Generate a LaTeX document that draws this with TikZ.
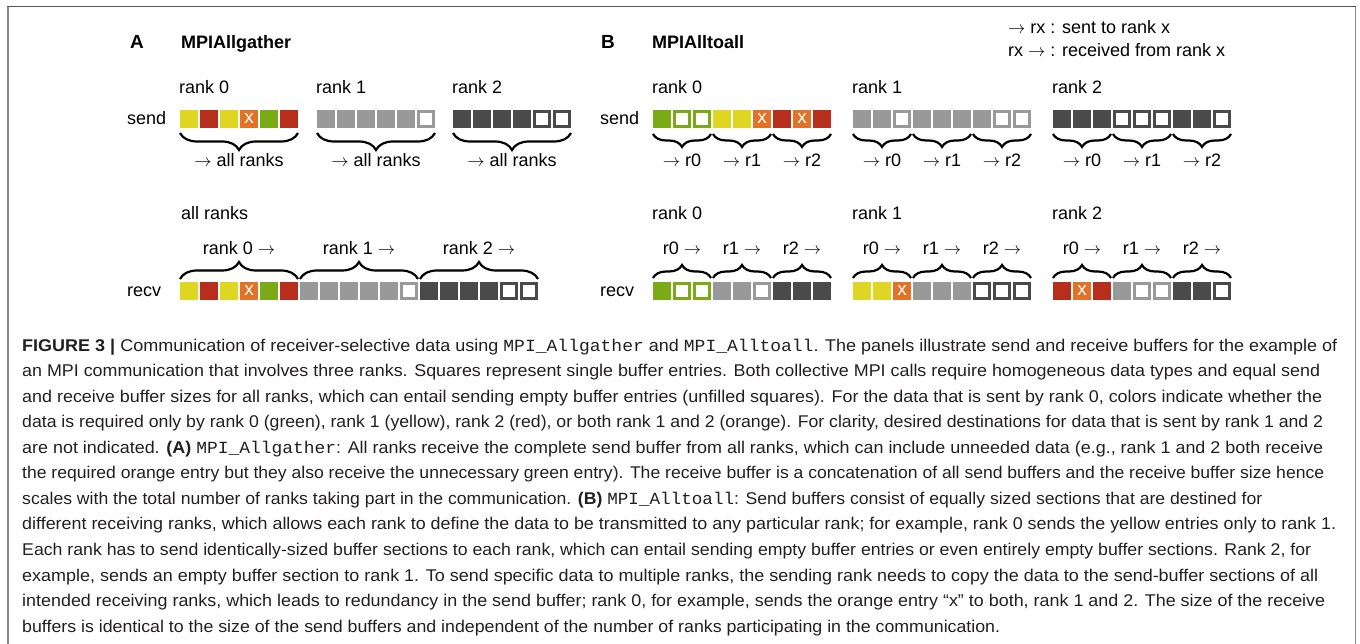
\documentclass[tikz,border=0pt]{standalone}
\usepackage{fontspec}
\usepackage{graphicx}
\setmainfont{Liberation Sans}
\setmonofont{Liberation Mono}
\usetikzlibrary{decorations.pathreplacing}

\definecolor{cgreen}{RGB}{122,170,22}
\definecolor{cyellow}{RGB}{222,214,34}
\definecolor{cred}{RGB}{184,46,28}
\definecolor{corange}{RGB}{226,114,38}
\definecolor{clight}{RGB}{153,153,153}
\definecolor{cdark}{RGB}{74,74,74}
\definecolor{captext}{RGB}{35,31,32}
\definecolor{frametop}{RGB}{85,85,85}
\definecolor{frameside}{RGB}{140,140,140}

\newcommand\panelfont{\fontsize{18}{21}\selectfont}
\newcommand\headfont{\fontsize{19}{22}\selectfont\bfseries}
\newcommand\cellfont{\fontsize{19}{19}\selectfont}
\newcommand\capfont{\fontsize{17}{20}\selectfont}
\newcommand\ar{\ensuremath{\rightarrow}}

\tikzset{
  cellfill/.style={rectangle, inner sep=0, minimum size=18, draw=none},
  cellempty/.style={rectangle, inner sep=0, minimum size=15, line width=3, fill=white},
  cell Y/.style={cellfill, fill=cyellow},
  cell R/.style={cellfill, fill=cred},
  cell G/.style={cellfill, fill=cgreen},
  cell O/.style={cellfill, fill=corange,
    label={[text=white, font=\cellfont, inner sep=0, yshift=1]center:x}},
  cell L/.style={cellfill, fill=clight},
  cell D/.style={cellfill, fill=cdark},
  cell g/.style={cellempty, draw=cgreen},
  cell l/.style={cellempty, draw=clight},
  cell d/.style={cellempty, draw=cdark},
  lbl/.style={inner sep=0, font=\panelfont, anchor=base west},
  clbl/.style={inner sep=0, font=\panelfont, anchor=base},
  headlbl/.style={inner sep=0, font=\headfont, anchor=base west},
  bigbrace/.style={decorate, decoration={brace, amplitude=17}, line width=2.2},
  smallbrace/.style={decorate, decoration={brace, amplitude=13}, line width=2.2},
  capnode/.style={inner sep=0, anchor=base west, font=\capfont, text=captext},
}

% one row of buffer cells: name prefix, left x, top y, list of cell codes
\newcommand\cellrow[4]{%
  \foreach \c [count=\i from 0] in {#4} {
    \node[cell \c] (#1\i) at ({#2+20*\i+9},{#3+9}) {};
  }}

% one caption line: name, baseline y, width, text
\newcommand\capline[4]{%
  \node[capnode] (#1) at (22,#2) {\resizebox{#3pt}{\height}{#4}};}

\begin{document}
\begin{tikzpicture}[x=1pt,y=-1pt]
\useasboundingbox (0,0) rectangle (1360,644);

% frame
\draw[frameside, line width=1.6] (8,644) -- (8,6.5);
\draw[frameside, line width=1.6] (1355.5,644) -- (1355.5,6.5);
\draw[frametop, line width=1.6] (7.2,6.5) -- (1356.3,6.5);

% ---------------- panel A ----------------
\node[headlbl] (Ahead) at (130,48.8) {A};
\node[lbl, font=\panelfont\bfseries] (Atitle) at (181,48.5) {MPIAllgather};

\node[lbl] (Ar0) at (179,93.5) {rank 0};
\node[lbl] (Ar1) at (316,93.5) {rank 1};
\node[lbl] (Ar2) at (452,93.5) {rank 2};
\node[lbl] (Asend) at (127,125) {send};

\cellrow{AsA}{180}{110}{Y,R,Y,O,G,R}
\cellrow{AsB}{317}{110}{L,L,L,L,L,l}
\cellrow{AsC}{453}{110}{D,D,D,D,d,d}

\draw[bigbrace] (298,133) -- (180,133);
\draw[bigbrace] (435,133) -- (317,133);
\draw[bigbrace] (571,133) -- (453,133);
\node[clbl] (Ato0) at (239,166.5) {\ar{} all ranks};
\node[clbl] (Ato1) at (376,166.5) {\ar{} all ranks};
\node[clbl] (Ato2) at (512,166.5) {\ar{} all ranks};

\node[lbl] (Aall) at (181,219.5) {all ranks};
\node[clbl] (Afr0) at (239,254.5) {rank 0 \ar};
\node[clbl] (Afr1) at (359,254.5) {rank 1 \ar};
\node[clbl] (Afr2) at (479,254.5) {rank 2 \ar};
\draw[bigbrace] (180,279) -- (298,279);
\draw[bigbrace] (300,279) -- (418,279);
\draw[bigbrace] (420,279) -- (538,279);

\node[lbl] (Arecv) at (127,297) {recv};
\cellrow{Ar}{180}{282}{Y,R,Y,O,G,R,L,L,L,L,L,l,D,D,D,D,d,d}

% ---------------- panel B ----------------
\node[headlbl] (Bhead) at (601,48.8) {B};
\node[lbl, font=\panelfont\bfseries] (Btitle) at (652,48.5) {MPIAlltoall};
\node[lbl] (Bkey1) at (1008,33.5) {\ar{} rx : sent to rank x};
\node[lbl] (Bkey2) at (1008,56.5) {rx \ar{} : received from rank x};

\node[lbl] (Br0) at (652,93.5) {rank 0};
\node[lbl] (Br1) at (852,93.5) {rank 1};
\node[lbl] (Br2) at (1052,93.5) {rank 2};
\node[lbl] (Bsend) at (600,125) {send};

\cellrow{BsA}{653}{110}{G,g,g,Y,Y,O,R,O,R}
\cellrow{BsB}{853}{110}{L,L,l,L,L,L,L,l,l}
\cellrow{BsC}{1053}{110}{D,D,D,d,d,d,D,D,d}

\foreach \g [count=\n from 0] in {653,853,1053} {
  \foreach \k in {0,1,2} {
    \draw[smallbrace] ({\g+60*\k+58},134) -- ({\g+60*\k},134);
    \node[clbl] (Bto\n\k) at ({\g+60*\k+29},166.5) {\ar{} r\k};
    \node[clbl] (Bfr\n\k) at ({\g+60*\k+29},254.5) {r\k{} \ar};
    \draw[smallbrace] ({\g+60*\k},278) -- ({\g+60*\k+58},278);
  }
}

\node[lbl] (Bq0) at (652,219.5) {rank 0};
\node[lbl] (Bq1) at (852,219.5) {rank 1};
\node[lbl] (Bq2) at (1052,219.5) {rank 2};
\node[lbl] (Brecv) at (600,297) {recv};

\cellrow{BrA}{653}{282}{G,g,g,L,L,l,D,D,D}
\cellrow{BrB}{853}{282}{Y,Y,O,L,L,L,d,d,d}
\cellrow{BrC}{1053}{282}{R,O,R,L,l,l,D,D,d}

% ---------------- caption ----------------
\capline{c1}{351}{1315}{{\bfseries FIGURE 3 |} Communication of receiver-selective data using \texttt{MPI\_Allgather} and \texttt{MPI\_Alltoall}. The panels illustrate send and receive buffers for the example of}
\capline{c2}{376.6}{1298}{an MPI communication that involves three ranks. Squares represent single buffer entries. Both collective MPI calls require homogeneous data types and equal send}
\capline{c3}{402.1}{1300}{and receive buffer sizes for all ranks, which can entail sending empty buffer entries (unfilled squares). For the data that is sent by rank 0, colors indicate whether the}
\capline{c4}{427.7}{1301}{data is required only by rank 0 (green), rank 1 (yellow), rank 2 (red), or both rank 1 and 2 (orange). For clarity, desired destinations for data that is sent by rank 1 and 2}
\capline{c5}{453.2}{1301}{are not indicated. {\bfseries (A)} \texttt{MPI\_Allgather}: All ranks receive the complete send buffer from all ranks, which can include unneeded data (e.g., rank 1 and 2 both receive}
\capline{c6}{478.8}{1302}{the required orange entry but they also receive the unnecessary green entry). The receive buffer is a concatenation of all send buffers and the receive buffer size hence}
\capline{c7}{504.3}{1240}{scales with the total number of ranks taking part in the communication. {\bfseries (B)} \texttt{MPI\_Alltoall}: Send buffers consist of equally sized sections that are destined for}
\capline{c8}{529.9}{1314}{different receiving ranks, which allows each rank to define the data to be transmitted to any particular rank; for example, rank 0 sends the yellow entries only to rank 1.}
\capline{c9}{555.4}{1289}{Each rank has to send identically-sized buffer sections to each rank, which can entail sending empty buffer entries or even entirely empty buffer sections. Rank 2, for}
\capline{c10}{581.0}{1296}{example, sends an empty buffer section to rank 1. To send specific data to multiple ranks, the sending rank needs to copy the data to the send-buffer sections of all}
\capline{c11}{606.5}{1303}{intended receiving ranks, which leads to redundancy in the send buffer; rank 0, for example, sends the orange entry “x” to both, rank 1 and 2. The size of the receive}
\capline{c12}{632.1}{978}{buffers is identical to the size of the send buffers and independent of the number of ranks participating in the communication.}
\end{tikzpicture}
\end{document}
